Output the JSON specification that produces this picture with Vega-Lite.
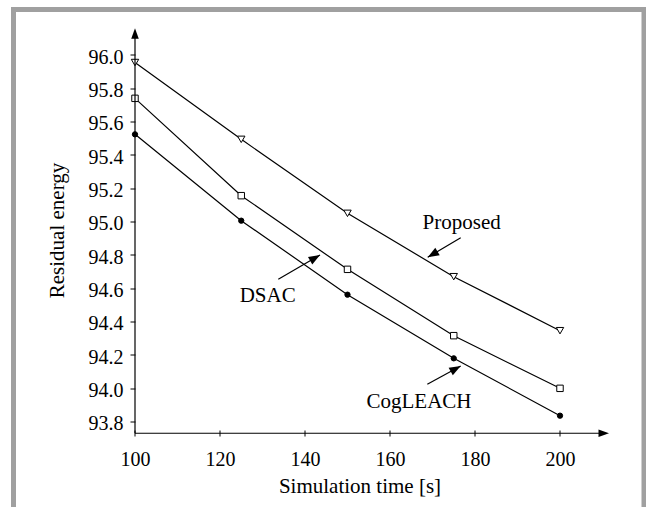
{
  "$schema": "https://vega.github.io/schema/vega-lite/v6.json",
  "width": 630.5,
  "height": 497.5,
  "autosize": {"type": "none"},
  "padding": {"left": 13.5, "top": 9.5, "right": 2, "bottom": 0},
  "background": "white",
  "view": {"fill": "white", "stroke": "#a0a0a0", "strokeWidth": 5, "strokeDash": [1128, 630.5, 497.5]},
  "config": {
    "font": "Liberation Serif",
    "text": {"font": "Liberation Serif"},
    "style": {
      "guide-label": {"font": "Liberation Serif"},
      "guide-title": {"font": "Liberation Serif"}
    },
    "axis": {
      "domain": false,
      "grid": false,
      "tickColor": "black",
      "tickWidth": 1,
      "labelFont": "Liberation Serif",
      "labelColor": "black",
      "labelFontSize": 20,
      "titleFont": "Liberation Serif",
      "titleColor": "black",
      "titleFontSize": 21,
      "titleFontWeight": "normal",
      "labelFlush": false,
      "labelOverlap": false
    }
  },
  "datasets": {
    "series": [
      {"t": 100, "e": 95.955, "s": "Proposed"},
      {"t": 125, "e": 95.494, "s": "Proposed"},
      {"t": 150, "e": 95.05, "s": "Proposed"},
      {"t": 175, "e": 94.67, "s": "Proposed"},
      {"t": 200, "e": 94.346, "s": "Proposed"},
      {"t": 100, "e": 95.74, "s": "DSAC"},
      {"t": 125, "e": 95.156, "s": "DSAC"},
      {"t": 150, "e": 94.714, "s": "DSAC"},
      {"t": 175, "e": 94.316, "s": "DSAC"},
      {"t": 200, "e": 94.0, "s": "DSAC"},
      {"t": 100, "e": 95.524, "s": "CogLEACH"},
      {"t": 125, "e": 95.006, "s": "CogLEACH"},
      {"t": 150, "e": 94.562, "s": "CogLEACH"},
      {"t": 175, "e": 94.18, "s": "CogLEACH"},
      {"t": 200, "e": 93.836, "s": "CogLEACH"}
    ],
    "notes": [
      {"label": "Proposed", "x": 176.87, "y": 94.959},
      {"label": "DSAC", "x": 131.22, "y": 94.518},
      {"label": "CogLEACH", "x": 166.82, "y": 93.882}
    ],
    "arrows": [
      {"name": "Proposed", "x": 176.64, "y": 94.904, "x2": 168.87, "y2": 94.786},
      {"name": "DSAC", "x": 133.72, "y": 94.654, "x2": 143.53, "y2": 94.80},
      {"name": "CogLEACH", "x": 168.78, "y": 94.024, "x2": 176.64, "y2": 94.134}
    ],
    "one": [{}]
  },
  "layer": [
    {
      "data": {"name": "series"},
      "mark": {"type": "line", "color": "black", "strokeWidth": 1.2},
      "encoding": {
        "x": {
          "field": "t", "type": "quantitative",
          "scale": {"domain": [71.412, 219.765], "nice": false, "zero": false},
          "axis": {
            "values": [100, 120, 140, 160, 180, 200],
            "orient": "bottom",
            "offset": -77,
            "tickSize": 6,
            "labelFont": "Liberation Serif",
            "labelBaseline": "alphabetic",
            "labelPadding": 29,
            "title": "Simulation time [s]",
            "titleFont": "Liberation Serif",
            "titleX": 346,
            "titleY": 62.5,
            "titleBaseline": "alphabetic",
            "titleAlign": "center",
            "titleAnchor": null
          }
        },
        "y": {
          "field": "e", "type": "quantitative",
          "scale": {"domain": [93.288, 96.273], "nice": false, "zero": false},
          "axis": {
            "values": [93.8, 94.0, 94.2, 94.4, 94.6, 94.8, 95.0, 95.2, 95.4, 95.6, 95.8, 96.0],
            "format": ".1f",
            "orient": "left",
            "offset": -121.5,
            "tickSize": 5,
            "labelFont": "Liberation Serif",
            "labelPadding": 7,
            "labelBaseline": "middle",
            "labelOffset": 2,
            "title": "Residual energy",
            "titleFont": "Liberation Serif",
            "titleAngle": 270,
            "titleX": -72,
            "titleY": 220.5,
            "titleBaseline": "alphabetic",
            "titleAlign": "center"
          }
        },
        "detail": {"field": "s", "type": "nominal"}
      }
    },
    {
      "data": {"name": "series"},
      "mark": {"type": "point", "filled": true, "stroke": "black", "strokeWidth": 1, "opacity": 1},
      "encoding": {
        "x": {"field": "t", "type": "quantitative", "scale": {"domain": [71.412, 219.765], "nice": false, "zero": false}},
        "y": {"field": "e", "type": "quantitative", "scale": {"domain": [93.288, 96.273], "nice": false, "zero": false}},
        "shape": {"field": "s", "type": "nominal", "scale": {"domain": ["Proposed", "DSAC", "CogLEACH"], "range": ["triangle-down", "square", "circle"]}, "legend": null},
        "fill": {"field": "s", "type": "nominal", "scale": {"domain": ["Proposed", "DSAC", "CogLEACH"], "range": ["white", "white", "black"]}, "legend": null},
        "size": {"field": "s", "type": "ordinal", "scale": {"domain": ["Proposed", "DSAC", "CogLEACH"], "range": [55, 28, 22]}, "legend": null}
      }
    },
    {
      "data": {"name": "one"},
      "mark": {"type": "rule", "color": "black", "strokeWidth": 1.2},
      "encoding": {
        "x": {"datum": 100, "type": "quantitative", "scale": {"domain": [71.412, 219.765], "nice": false, "zero": false}},
        "y": {"datum": 93.7304, "type": "quantitative", "scale": {"domain": [93.288, 96.273], "nice": false, "zero": false}},
        "x2": {"datum": 210},
        "y2": {"datum": 93.7304}
      }
    },
    {
      "data": {"name": "one"},
      "mark": {"type": "rule", "color": "black", "strokeWidth": 1.2},
      "encoding": {
        "x": {"datum": 100, "type": "quantitative", "scale": {"domain": [71.412, 219.765], "nice": false, "zero": false}},
        "y": {"datum": 93.7304, "type": "quantitative", "scale": {"domain": [93.288, 96.273], "nice": false, "zero": false}},
        "x2": {"datum": 100},
        "y2": {"datum": 96.12}
      }
    },
    {
      "data": {"name": "one"},
      "mark": {"type": "point", "shape": "M0,0L-1,-0.36L-1,0.36Z", "filled": true, "color": "black", "opacity": 1, "size": 440, "angle": 0},
      "encoding": {
        "x": {"datum": 211.53, "type": "quantitative", "scale": {"domain": [71.412, 219.765], "nice": false, "zero": false}},
        "y": {"datum": 93.7304, "type": "quantitative", "scale": {"domain": [93.288, 96.273], "nice": false, "zero": false}}
      }
    },
    {
      "data": {"name": "one"},
      "mark": {"type": "point", "shape": "M0,0L-1,-0.36L-1,0.36Z", "filled": true, "color": "black", "opacity": 1, "size": 440, "angle": 270},
      "encoding": {
        "x": {"datum": 100, "type": "quantitative", "scale": {"domain": [71.412, 219.765], "nice": false, "zero": false}},
        "y": {"datum": 96.16, "type": "quantitative", "scale": {"domain": [93.288, 96.273], "nice": false, "zero": false}}
      }
    },
    {
      "data": {"name": "arrows"},
      "mark": {"type": "rule", "color": "black", "strokeWidth": 1.2},
      "encoding": {
        "x": {"field": "x", "type": "quantitative", "scale": {"domain": [71.412, 219.765], "nice": false, "zero": false}},
        "y": {"field": "y", "type": "quantitative", "scale": {"domain": [93.288, 96.273], "nice": false, "zero": false}},
        "x2": {"field": "x2"},
        "y2": {"field": "y2"}
      }
    },
    {
      "data": {"name": "one"},
      "mark": {"type": "point", "shape": "M0,0L-1,-0.38L-1,0.38Z", "filled": true, "color": "black", "opacity": 1, "size": 520, "angle": 149.3},
      "encoding": {
        "x": {"datum": 168.87, "type": "quantitative", "scale": {"domain": [71.412, 219.765], "nice": false, "zero": false}},
        "y": {"datum": 94.786, "type": "quantitative", "scale": {"domain": [93.288, 96.273], "nice": false, "zero": false}}
      }
    },
    {
      "data": {"name": "one"},
      "mark": {"type": "point", "shape": "M0,0L-1,-0.38L-1,0.38Z", "filled": true, "color": "black", "opacity": 1, "size": 520, "angle": 329.8},
      "encoding": {
        "x": {"datum": 143.53, "type": "quantitative", "scale": {"domain": [71.412, 219.765], "nice": false, "zero": false}},
        "y": {"datum": 94.80, "type": "quantitative", "scale": {"domain": [93.288, 96.273], "nice": false, "zero": false}}
      }
    },
    {
      "data": {"name": "one"},
      "mark": {"type": "point", "shape": "M0,0L-1,-0.38L-1,0.38Z", "filled": true, "color": "black", "opacity": 1, "size": 520, "angle": 331.3},
      "encoding": {
        "x": {"datum": 176.64, "type": "quantitative", "scale": {"domain": [71.412, 219.765], "nice": false, "zero": false}},
        "y": {"datum": 94.134, "type": "quantitative", "scale": {"domain": [93.288, 96.273], "nice": false, "zero": false}}
      }
    },
    {
      "data": {"name": "notes"},
      "mark": {"type": "text", "font": "Liberation Serif", "fontSize": 21, "color": "black", "align": "center", "baseline": "alphabetic"},
      "encoding": {
        "x": {"field": "x", "type": "quantitative", "scale": {"domain": [71.412, 219.765], "nice": false, "zero": false}},
        "y": {"field": "y", "type": "quantitative", "scale": {"domain": [93.288, 96.273], "nice": false, "zero": false}},
        "text": {"field": "label"}
      }
    }
  ]
}
